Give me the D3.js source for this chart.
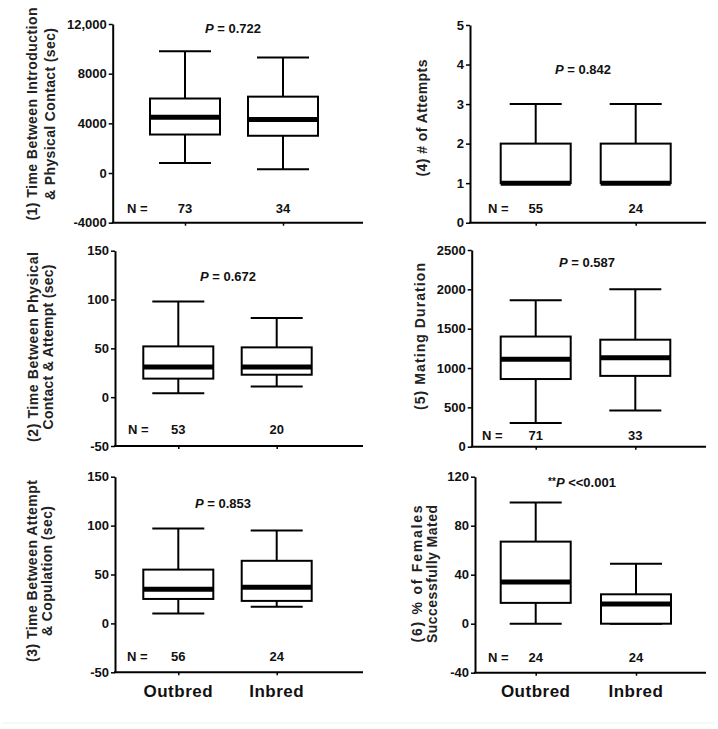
<!DOCTYPE html>
<html>
<head>
<meta charset="utf-8">
<script src="https://cdn.jsdelivr.net/npm/d3@7"></script>
<style>
  body { margin: 0; background: #fff; }
  svg { display: block; font-family: "Liberation Sans", Arial, sans-serif; font-weight: bold; }
</style>
</head>
<body>
<svg id="chart" width="718" height="729"></svg>
<script>
// groups on every x axis
const groups = ["Outbred", "Inbred"];

// five-number summaries: [min, q1, median, q3, max]
const p1Box = [[800, 3100, 4500, 6000, 9800], [300, 3000, 4300, 6150, 9300]];
const p2Box = [[4, 19, 31, 52, 98], [11, 23, 31, 51, 81]];
const p3Box = [[10, 25, 35, 55, 97], [17, 23, 37, 64, 95]];
const p4Box = [[1, 1, 1, 2, 3], [1, 1, 1, 2, 3]];
const p5Box = [[300, 860, 1110, 1400, 1860], [460, 900, 1130, 1360, 2000]];
const p6Box = [[0, 17, 34, 67, 99], [0, 0, 16, 24, 49]];

// sample sizes
const p1N = [73, 34];
const p2N = [53, 20];
const p3N = [56, 24];
const p4N = [55, 24];
const p5N = [71, 33];
const p6N = [24, 24];

// p values
const pLabels = [" = 0.722", " = 0.672", " = 0.853", " = 0.842", " = 0.587", " <<0.001"];
const pPrefix = ["", "", "", "", "", "**"];

// y ticks
const p1Ticks = [-4000, 0, 4000, 8000, 12000];
const p1TickLabels = ["-4000", "0", "4000", "8000", "12,000"];
const p2Ticks = [-50, 0, 50, 100, 150];
const p3Ticks = [-50, 0, 50, 100, 150];
const p4Ticks = [0, 1, 2, 3, 4, 5];
const p5Ticks = [0, 500, 1000, 1500, 2000, 2500];
const p6Ticks = [-40, 0, 40, 80, 120];

// y axis titles
const yTitles = [
  ["(1) Time Between Introduction", "& Physical Contact (sec)"],
  ["(2) Time Between Physical", "Contact & Attempt (sec)"],
  ["(3) Time Between Attempt", "& Copulation (sec)"],
  ["(4) # of Attempts"],
  ["(5) Mating Duration"],
  ["(6) %  of Females", "Successfully Mated"]
];

const svg = d3.select("#chart");

// faint band along the bottom of the figure
svg.append("rect")
  .attr("x", 3).attr("y", 722).attr("width", 712).attr("height", 2)
  .attr("fill", "#eefcf1");

// layout for each panel (pixels); tl = drawn length of each title line
const panels = [
  { box: p1Box, n: p1N, ticks: p1Ticks, labels: p1TickLabels, left: 112.7, right: 363, top: 24, bottom: 222.7,
    c: [185, 283], tx: [31.7, 50], ty: 114, tl: [213, 172], px: 233, py: 33, nx: 127, ny: 213 },
  { box: p2Box, n: p2N, ticks: p2Ticks, left: 115, right: 363, top: 250.7, bottom: 446,
    c: [178.3, 276.7], tx: [33, 47.5], ty: 347, tl: [190, 165], px: 228, py: 281, nx: 128, ny: 434 },
  { box: p3Box, n: p3N, ticks: p3Ticks, left: 115, right: 363, top: 476.7, bottom: 672.3,
    c: [178.3, 276.7], tx: [32, 46.5], ty: 571, tl: [182, 130], px: 223, py: 508, nx: 127, ny: 661, xlab: true },
  { box: p4Box, n: p4N, ticks: p4Ticks, left: 470, right: 706, top: 25, bottom: 222.7,
    c: [535.7, 635.7], tx: [421.7], ty: 118, tl: [117], px: 583, py: 74, nx: 488, ny: 213 },
  { box: p5Box, n: p5N, ticks: p5Ticks, left: 471.7, right: 706, top: 250, bottom: 446.7,
    c: [535.7, 635.3], tx: [420], ty: 336.5, tl: [147], px: 587, py: 267, nx: 482, ny: 440 },
  { box: p6Box, n: p6N, ticks: p6Ticks, left: 475, right: 706, top: 476.7, bottom: 672.7,
    c: [535.7, 636], tx: [416.7, 431.5], ty: 574, tl: [137, 138], px: 582, py: 486.5, nx: 488, ny: 662, xlab: true }
];

const boxW = 70, capW = 52;

panels.forEach(function(p, pi) {
  const g = svg.append("g");

  const y = d3.scaleLinear()
    .domain([p.ticks[0], p.ticks[p.ticks.length - 1]])
    .range([p.bottom, p.top]);
  const x = d3.scalePoint().domain(groups).range(p.c);

  // y axis
  const yAxis = g.append("g")
    .attr("transform", `translate(${p.left},0)`)
    .call(d3.axisLeft(y)
      .tickValues(p.ticks)
      .tickFormat((d, i) => p.labels ? p.labels[i] : d)
      .tickSize(4).tickSizeOuter(0).tickPadding(2))
    .attr("font-family", null).attr("font-size", 13);
  yAxis.select(".domain").attr("stroke", "#000").attr("stroke-width", 2);
  yAxis.selectAll(".tick line").attr("stroke", "#000").attr("stroke-width", 1.5);
  yAxis.selectAll(".tick text").attr("fill", "#111");

  // x axis line and small ticks
  g.append("line")
    .attr("x1", p.left - 1).attr("x2", p.right)
    .attr("y1", p.bottom).attr("y2", p.bottom)
    .attr("stroke", "#000").attr("stroke-width", 2);
  const xAxis = g.append("g")
    .attr("transform", `translate(0,${p.bottom})`)
    .call(d3.axisBottom(x).tickSize(3).tickSizeOuter(0).tickFormat(""));
  xAxis.select(".domain").remove();
  xAxis.selectAll(".tick line").attr("stroke", "#000").attr("stroke-width", 1.5);

  const data = groups.map((k, i) => ({ k: k, s: p.box[i], n: p.n[i] }));
  const b = g.selectAll(".bx").data(data).join("g").attr("class", "bx");

  // whisker
  b.append("line")
    .attr("x1", d => x(d.k)).attr("x2", d => x(d.k))
    .attr("y1", d => y(d.s[4])).attr("y2", d => y(d.s[0]))
    .attr("stroke", "#000").attr("stroke-width", 2);
  // caps
  [0, 4].forEach(function(j) {
    b.append("line")
      .attr("x1", d => x(d.k) - capW / 2).attr("x2", d => x(d.k) + capW / 2)
      .attr("y1", d => y(d.s[j])).attr("y2", d => y(d.s[j]))
      .attr("stroke", "#000").attr("stroke-width", 2);
  });
  // box
  b.append("rect")
    .attr("x", d => x(d.k) - boxW / 2)
    .attr("y", d => y(d.s[3]))
    .attr("width", boxW)
    .attr("height", d => y(d.s[1]) - y(d.s[3]))
    .attr("fill", "#fff").attr("stroke", "#000").attr("stroke-width", 2);
  // median
  b.append("line")
    .attr("x1", d => x(d.k) - boxW / 2).attr("x2", d => x(d.k) + boxW / 2)
    .attr("y1", d => y(d.s[2])).attr("y2", d => y(d.s[2]))
    .attr("stroke", "#000").attr("stroke-width", 5);

  // N labels
  g.append("text")
    .attr("x", p.nx).attr("y", p.ny)
    .attr("font-size", 13).attr("fill", "#111")
    .text("N =");
  b.append("text")
    .attr("x", d => x(d.k)).attr("y", p.ny)
    .attr("text-anchor", "middle")
    .attr("font-size", 13).attr("fill", "#111")
    .text(d => d.n);

  // p value
  const pt = g.append("text")
    .attr("x", p.px).attr("y", p.py)
    .attr("text-anchor", "middle")
    .attr("font-size", 13).attr("fill", "#111");
  if (pPrefix[pi]) pt.append("tspan").attr("font-size", 10).attr("dy", -2).text(pPrefix[pi]);
  pt.append("tspan").attr("font-style", "italic").attr("dy", pPrefix[pi] ? 2 : 0).text("P");
  pt.append("tspan").text(pLabels[pi]);

  // y title
  yTitles[pi].forEach(function(line, li) {
    g.append("text")
      .attr("transform", `translate(${p.tx[li]},${p.ty}) rotate(-90)`)
      .attr("text-anchor", "middle")
      .attr("dominant-baseline", "central")
      .attr("font-size", 14).attr("fill", "#222")
      .attr("textLength", p.tl[li])
      .attr("lengthAdjust", "spacing")
      .text(line);
  });

  // group labels under the bottom panels
  if (p.xlab) {
    g.selectAll(".xl").data(groups).join("text")
      .attr("x", d => x(d)).attr("y", 697)
      .attr("text-anchor", "middle")
      .attr("font-size", 17).attr("fill", "#111")
      .attr("letter-spacing", 0.5)
      .text(d => d);
  }
});
</script>
</body>
</html>
